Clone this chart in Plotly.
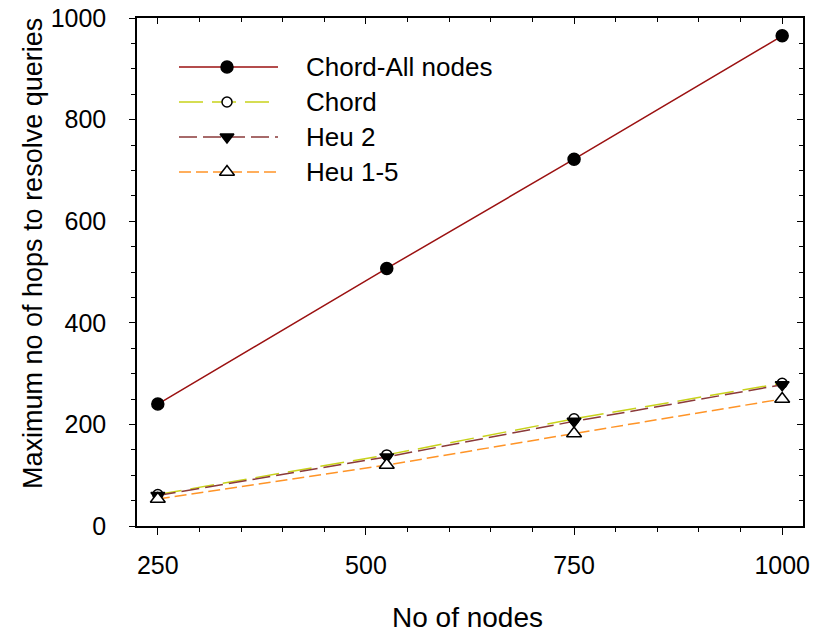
import plotly.graph_objects as go

# ---- data ----
nodes = [250, 525, 750, 1000]
chord_all = [240, 507, 722, 965]
chord = [62, 140, 211, 281]
heu2 = [60, 136, 206, 278]
heu15 = [53, 120, 182, 250]
series_names = ["Chord-All nodes", "Chord", "Heu 2", "Heu 1-5"]
x_ticks = [250, 500, 750, 1000]
y_ticks = [0, 200, 400, 600, 800, 1000]

FONT = "Liberation Sans, Arial, sans-serif"

styles = [
    dict(color="#9B1111", dash="solid", symbol="circle", mcolor="black", mline="black", msize=12),
    dict(color="#C8D21A", dash="24px,9px", symbol="circle-open", mcolor="white", mline="black", msize=10),
    dict(color="#8B3A3A", dash="18px,6px", symbol="triangle-down", mcolor="black", mline="black", msize=12),
    dict(color="#FF9427", dash="12px,5px", symbol="triangle-up", mcolor="white", mline="black", msize=13),
]
values = [chord_all, chord, heu2, heu15]

fig = go.Figure()

for name, vals, st in zip(series_names, values, styles):
    sym = st["symbol"].replace("-open", "")
    fig.add_trace(go.Scatter(
        x=nodes, y=vals, name=name, mode="lines+markers",
        line=dict(color=st["color"], width=1.5, dash=st["dash"]),
        marker=dict(symbol=sym, size=st["msize"], color=st["mcolor"],
                    line=dict(color=st["mline"], width=1.5)),
        showlegend=False,
    ))

# mirrored (inward) ticks on top/right
fig.add_trace(go.Scatter(x=[None], y=[None], xaxis="x2", yaxis="y2",
                         showlegend=False, hoverinfo="skip"))

# ---- manual legend (pixel units inside plot area) ----
leg_x0, leg_xm, leg_x1 = 42, 90, 141
leg_rows = [49, 84, 119, 154]
leg_text_x = 167
for name, st, ry in zip(series_names, styles, leg_rows):
    sym = st["symbol"].replace("-open", "")
    fig.add_trace(go.Scatter(
        x=[leg_x0, leg_xm, leg_x1], y=[ry, ry, ry], mode="lines", xaxis="x3", yaxis="y3",
        line=dict(color=st["color"], width=1.5, dash=st["dash"]),
        showlegend=False, hoverinfo="skip"))
    fig.add_trace(go.Scatter(
        x=[leg_xm], y=[ry], mode="markers", xaxis="x3", yaxis="y3",
        marker=dict(symbol=sym, size=st["msize"], color=st["mcolor"],
                    line=dict(color=st["mline"], width=1.5)),
        showlegend=False, hoverinfo="skip"))
    fig.add_annotation(x=leg_text_x, y=ry, xref="x3", yref="y3", text=name,
                       showarrow=False, xanchor="left", yanchor="middle",
                       font=dict(family=FONT, size=26, color="black"))

XR = [225, 1025]
YR = [0, 1000]
tickfont = dict(family=FONT, size=25, color="black")

fig.update_layout(
    width=813, height=632,
    margin=dict(l=137, r=10, t=18, b=106, autoexpand=False),
    paper_bgcolor="white", plot_bgcolor="white",
    font=dict(family=FONT, color="black"),
    xaxis=dict(range=XR, tickvals=x_ticks, ticks="outside", ticklen=7, tickwidth=1,
               tickcolor="black", showline=True, linecolor="black", linewidth=1.5,
               showgrid=False, zeroline=False, tickfont=tickfont, ticklabelstandoff=9,
               automargin=False,
               minor=dict(dtick=50, tick0=0, ticks="outside", ticklen=4, tickcolor="black",
                          showgrid=False)),
    yaxis=dict(range=YR, tickvals=y_ticks, ticks="outside", ticklen=6, tickwidth=1,
               tickcolor="black", showline=True, linecolor="black", linewidth=1.5,
               showgrid=False, zeroline=False, tickfont=tickfont, ticklabelstandoff=18,
               automargin=False,
               minor=dict(dtick=50, tick0=0, ticks="outside", ticklen=4, tickcolor="black",
                          showgrid=False)),
    xaxis2=dict(range=XR, overlaying="x", side="top", anchor="y2", tickvals=x_ticks,
                ticks="inside", ticklen=6, tickcolor="black", showticklabels=False,
                showline=True, linecolor="black", linewidth=1.5, showgrid=False, zeroline=False,
                automargin=False,
                minor=dict(dtick=50, tick0=0, ticks="inside", ticklen=4, tickcolor="black",
                           showgrid=False)),
    yaxis2=dict(range=YR, overlaying="y", side="right", anchor="x2", tickvals=y_ticks,
                ticks="inside", ticklen=6, tickcolor="black", showticklabels=False,
                showline=True, linecolor="black", linewidth=1.5, showgrid=False, zeroline=False,
                automargin=False,
                minor=dict(dtick=50, tick0=0, ticks="inside", ticklen=4, tickcolor="black",
                           showgrid=False)),
    xaxis3=dict(range=[0, 666], overlaying="x", anchor="y3", visible=False, fixedrange=True,
                automargin=False),
    yaxis3=dict(range=[508, 0], overlaying="y", anchor="x3", visible=False, fixedrange=True,
                automargin=False),
)

fig.add_annotation(x=(467 - 137) / 666, y=(526 - 617) / 508, xref="paper", yref="paper",
                   text="No of nodes", showarrow=False, xanchor="center", yanchor="middle",
                   font=dict(family=FONT, size=28, color="black"))
fig.add_annotation(x=(33 - 137) / 666, y=(526 - 254) / 508, xref="paper", yref="paper",
                   text="Maximum no of hops to resolve queries", textangle=-90,
                   showarrow=False, xanchor="center", yanchor="middle",
                   font=dict(family=FONT, size=27, color="black"))

fig.write_html("out.html", config={"displayModeBar": False},
               post_script="document.body.style.margin='0';")
